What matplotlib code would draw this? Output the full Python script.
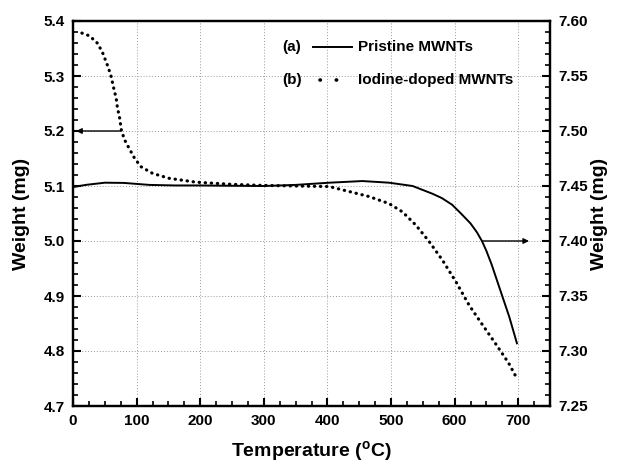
import matplotlib
matplotlib.use("Agg")
import matplotlib.pyplot as plt
from matplotlib.ticker import MultipleLocator

plt.rcParams['font.family'] = ['Liberation Sans', 'DejaVu Sans']
plt.rcParams['font.weight'] = 'bold'
plt.rcParams['mathtext.fontset'] = 'custom'
plt.rcParams['mathtext.rm'] = 'Liberation Sans:bold'
plt.rcParams['mathtext.bf'] = 'Liberation Sans:bold'
plt.rcParams['mathtext.it'] = 'Liberation Sans:bold'

# (a) Pristine MWNTs -> right axis
temp_a = [0, 20, 50, 80, 120, 160, 200, 250, 300, 350, 403, 455, 497, 534, 565, 580,
          596, 610, 625, 635, 643, 650, 658, 672, 686, 698]
weight_a = [7.449, 7.451, 7.4530, 7.4528, 7.451, 7.4505, 7.4505, 7.4502, 7.450, 7.451,
            7.453, 7.4545, 7.453, 7.450, 7.443, 7.439, 7.433, 7.425, 7.416, 7.408,
            7.400, 7.391, 7.379, 7.355, 7.331, 7.307]

# (b) Iodine-doped MWNTs -> left axis
temp_b = [14, 26, 39, 47, 55, 60, 64, 68, 70, 73, 76, 81, 88, 97, 107, 125, 151, 193,
          250, 300, 350, 403, 434, 465, 497, 518, 539, 560, 581, 602, 623, 643, 664,
          685, 698]
weight_b = [5.378, 5.373, 5.359, 5.341, 5.317, 5.299, 5.278, 5.259, 5.241, 5.226,
            5.202, 5.184, 5.169, 5.150, 5.135, 5.123, 5.114, 5.107, 5.103, 5.101,
            5.100, 5.099, 5.090, 5.081, 5.068, 5.053, 5.029, 4.999, 4.965, 4.926,
            4.883, 4.849, 4.814, 4.778, 4.750]

left_ticks = [4.7, 4.8, 4.9, 5.0, 5.1, 5.2, 5.3, 5.4]
right_ticks = [7.25, 7.30, 7.35, 7.40, 7.45, 7.50, 7.55, 7.60]
x_ticks = [0, 100, 200, 300, 400, 500, 600, 700]

fig = plt.figure(figsize=(6.2, 4.62), dpi=100)
ax = fig.add_axes([73/620, 1-406/462, 477/620, 385/462])
ax2 = ax.twinx()

ax.set_xlim(0, 750)
ax.set_ylim(4.7, 5.4)
ax2.set_ylim(7.25, 7.60)

dot_style = dict(color='black', lw=2.3, linestyle=(0, (0.1, 1.8)), dash_capstyle='round')
ax.plot(temp_b, weight_b, **dot_style)
ax2.plot(temp_a, weight_a, color='black', lw=1.4)

ax.set_xticks(x_ticks)
ax.set_yticks(left_ticks)
ax.set_yticklabels([f"{v:.1f}" for v in left_ticks])
ax2.set_yticks(right_ticks)
ax2.set_yticklabels([f"{v:.2f}" for v in right_ticks])
ax.xaxis.set_minor_locator(MultipleLocator(25))
ax.yaxis.set_minor_locator(MultipleLocator(0.02))
ax2.yaxis.set_minor_locator(MultipleLocator(0.01))

for a in (ax, ax2):
    for s in a.spines.values():
        s.set_linewidth(1.6)
ax.tick_params(axis='both', which='major', direction='in', length=6, width=1.5,
               labelsize=11, pad=6)
ax.tick_params(axis='both', which='minor', direction='in', length=3.5, width=1.2)
ax.tick_params(axis='y', right=False)
ax2.tick_params(axis='y', which='major', direction='in', length=6, width=1.5,
                labelsize=11, pad=6)
ax2.tick_params(axis='y', which='minor', direction='in', length=3.5, width=1.2)

ax.grid(True, which='major', linestyle=(0, (1, 2)), color='#999999', lw=0.7)
ax.set_axisbelow(True)

ax.set_xlabel('Temperature ($^{\\mathrm{o}}$C)', fontsize=14, fontweight='bold', labelpad=8)
ax.set_ylabel('Weight (mg)', fontsize=14, fontweight='bold', labelpad=10)
ax2.set_ylabel('Weight (mg)', fontsize=14, fontweight='bold', labelpad=2)

# arrows
ax.annotate('', xy=(5, 5.2), xytext=(75, 5.2),
            arrowprops=dict(arrowstyle='-|>', color='black', lw=1.0,
                            mutation_scale=8, shrinkA=0, shrinkB=0))
ax2.annotate('', xy=(717, 7.40), xytext=(643, 7.40),
             arrowprops=dict(arrowstyle='-|>', color='black', lw=1.0,
                             mutation_scale=8, shrinkA=0, shrinkB=0))

# legend (drawn manually)
tr = ax.transAxes
ax.text(0.438, 0.932, '(a)', transform=tr, fontsize=11, va='center', ha='left')
ax.plot([0.503, 0.585], [0.932, 0.932], transform=tr, color='black', lw=1.4, clip_on=False)
ax.text(0.598, 0.932, 'Pristine MWNTs', transform=tr, fontsize=11, va='center', ha='left')
ax.text(0.438, 0.847, '(b)', transform=tr, fontsize=11, va='center', ha='left')
ax.plot([0.518, 0.568], [0.847, 0.847], transform=tr, color='black', lw=2.6,
        linestyle=(0, (0.1, 4.4)), dash_capstyle='round', clip_on=False)
ax.text(0.598, 0.847, 'Iodine-doped MWNTs', transform=tr, fontsize=11, va='center', ha='left')

fig.savefig('out.png', dpi=100)
